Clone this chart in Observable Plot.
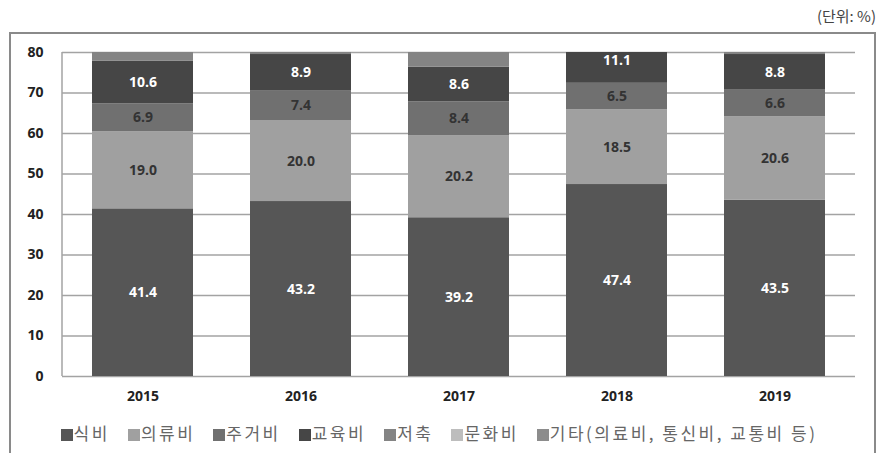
<!DOCTYPE html>
<html>
<head>
<meta charset="utf-8">
<script src="https://cdn.jsdelivr.net/npm/d3@7"></script>
<script src="https://cdn.jsdelivr.net/npm/@observablehq/plot@0.6"></script>
<style>
  body { margin: 0; background: #fff; font-family: "Open Sans", "Noto Sans CJK KR", sans-serif; }
  #wrap { position: relative; width: 878px; height: 453px; overflow: hidden; }
  #unit { position: absolute; right: 2px; top: 5px; font-size: 15px; color: #444; font-family: "Noto Sans CJK KR", sans-serif; }
  #box { position: absolute; left: 9px; top: 32px; width: 867px; height: 440px; border: 2px solid #8a8a8a; box-sizing: border-box; }
  #chart { position: absolute; left: 0; top: 0; }
  #legend { position: absolute; left: 0; width: 878px; top: 420px; text-align: center; font-size: 17px; letter-spacing: 2.5px; color: #666; font-family: "Noto Sans CJK KR", sans-serif; white-space: nowrap; }
  #legend span.item { margin: 0 9px; }
  #legend span.sw { display: inline-block; width: 12px; height: 12px; margin-right: 1px; vertical-align: -1px; }
</style>
</head>
<body>
<div id="wrap">
  <div id="unit">(단위: %)</div>
  <div id="box"></div>
  <div id="chart"></div>
  <div id="legend"></div>
</div>
<script>
const years = ["2015", "2016", "2017", "2018", "2019"];
const seriesNames = ["식비", "의류비", "주거비", "교육비", "저축", "문화비", "기타(의료비, 통신비, 교통비 등)"];
const food      = [41.4, 43.2, 39.2, 47.4, 43.5];
const clothing  = [19.0, 20.0, 20.2, 18.5, 20.6];
const housing   = [6.9, 7.4, 8.4, 6.5, 6.6];
const education = [10.6, 8.9, 8.6, 11.1, 8.8];
// The following series lie above the 80% axis limit and are clipped in the picture (estimated).
const savings   = [8.2, 7.9, 9.1, 6.3, 7.8];
const culture   = [6.5, 6.2, 7.0, 5.2, 6.4];
const other     = [7.4, 6.4, 7.5, 5.0, 6.3];
const yTicks = [0, 10, 20, 30, 40, 50, 60, 70, 80];
const seriesColors = ["#565656", "#a0a0a0", "#707070", "#464646", "#848484", "#bdbdbd", "#8c8c8c"];
const labeledSeries = ["식비", "의류비", "주거비", "교육비"];
const whiteLabelSeries = ["식비", "교육비"];

const seriesValues = [food, clothing, housing, education, savings, culture, other];
const data = [];
seriesNames.forEach((s, si) => {
  years.forEach((yr, yi) => data.push({year: yr, series: s, value: seriesValues[si][yi]}));
});

const W = 878, H = 410;
const plot = Plot.plot({
  width: W,
  height: H,
  marginLeft: 62,
  marginRight: 23,
  marginTop: 52,
  marginBottom: 34,
  style: {fontFamily: "'Open Sans', 'Noto Sans CJK KR', sans-serif", background: "transparent"},
  x: {domain: years, paddingInner: 0.36, paddingOuter: 0.18, label: null},
  y: {domain: [0, 80], label: null},
  color: {domain: seriesNames, range: seriesColors},
  marks: [
    Plot.ruleY(yTicks, {stroke: "#a3a3a3", strokeWidth: 1.5}),
    Plot.barY(data, {x: "year", y: "value", z: "series", fill: "series", order: seriesNames, clip: true}),
    Plot.text(data, Plot.stackY({
      x: "year", y: "value", z: "series", order: seriesNames,
      text: d => labeledSeries.includes(d.series) ? d.value.toFixed(1) : null,
      fill: d => whiteLabelSeries.includes(d.series) ? "#ffffff" : "#333333",
      fontSize: 14, fontWeight: "bold"
    })),
    Plot.axisY({ticks: yTicks, tickSize: 0, tickPadding: 19, fontSize: 14, fontWeight: "bold", fill: "#222"}),
    Plot.axisX({tickSize: 0, tickPadding: 15, fontSize: 14, fontWeight: "bold", fill: "#222"})
  ]
});

// left axis line drawn with the plot's own y scale
const ys = plot.scale("y");
d3.select(plot).append("line")
  .attr("x1", 62).attr("x2", 62)
  .attr("y1", ys.apply(0)).attr("y2", ys.apply(80))
  .attr("stroke", "#a3a3a3").attr("stroke-width", 1.5);
document.getElementById("chart").appendChild(plot);

const legend = document.getElementById("legend");
seriesNames.forEach((s, i) => {
  const item = document.createElement("span");
  item.className = "item";
  const sw = document.createElement("span");
  sw.className = "sw";
  sw.style.background = seriesColors[i];
  item.appendChild(sw);
  item.appendChild(document.createTextNode(s));
  legend.appendChild(item);
});
</script>
</body>
</html>
